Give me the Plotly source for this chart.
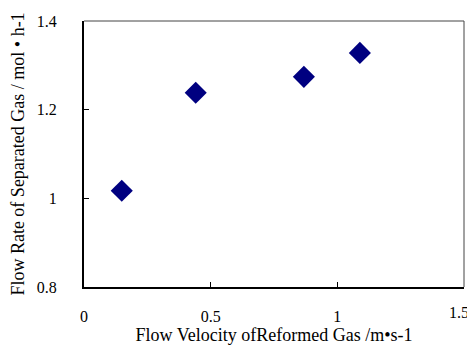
import plotly.graph_objects as go

velocity = [0.149, 0.441, 0.868, 1.089]
flow_rate = [1.017, 1.238, 1.274, 1.328]

x_ticks = [0, 0.5, 1]
x_tick_labels = ["0", "0.5", "1"]
x_end_tick = [1.5]
x_end_label = ["1.5"]
y_ticks = [0.8, 1.0, 1.2, 1.4]
y_tick_labels = ["0.8", "1", "1.2", "1.4"]

tick_font = dict(family="Liberation Serif, Times New Roman, serif", size=16, color="black")
title_font = dict(family="Liberation Serif, Times New Roman, serif", size=18, color="black")

fig = go.Figure()
fig.add_trace(go.Scatter(
    x=velocity, y=flow_rate, mode="markers",
    marker=dict(symbol="diamond", size=17, color="#000080", line=dict(width=0)),
))
# empty trace so the overlay axis carrying the last tick label is drawn
fig.add_trace(go.Scatter(x=[], y=[], xaxis="x2", yaxis="y", hoverinfo="skip"))

# page body has an 8px margin, so the figure is sized to fill the window from there
fig.update_layout(
    width=467, height=337,
    margin=dict(l=76, r=11, t=13, b=58, autoexpand=False),
    paper_bgcolor="white", plot_bgcolor="white",
    font=tick_font, showlegend=False,
    shapes=[
        dict(type="line", xref="paper", yref="paper", x0=0, x1=1, y0=1, y1=1,
             line=dict(color="#444444", width=1)),
        dict(type="line", xref="paper", yref="paper", x0=1, x1=1, y0=0, y1=1,
             line=dict(color="#444444", width=1)),
    ],
    xaxis=dict(
        range=[0, 1.5], tickvals=x_ticks, ticktext=x_tick_labels, automargin=False,
        showgrid=False, zeroline=False, showline=True, linecolor="black", linewidth=2,
        ticks="inside", ticklen=5, tickcolor="black", tickwidth=1, ticklabelstandoff=14,
        ticklabeloverflow="allow", tickfont=tick_font,
        title=dict(text="Flow Velocity ofReformed Gas /m\u2022s-1", standoff=5, font=title_font),
    ),
    xaxis2=dict(
        overlaying="x", side="bottom", matches="x", range=[0, 1.5],
        tickvals=x_end_tick, ticktext=x_end_label, automargin=False,
        showgrid=False, zeroline=False, showline=False, ticks="",
        ticklabelstandoff=14, ticklabelshift=-5, ticklabeloverflow="allow",
        tickfont=tick_font,
    ),
    yaxis=dict(
        range=[0.8, 1.4], tickvals=y_ticks, ticktext=y_tick_labels, automargin=False,
        showgrid=False, zeroline=False, showline=True, linecolor="black", linewidth=2,
        ticks="inside", ticklen=5, tickcolor="black", tickwidth=1, ticklabelstandoff=22,
        ticklabeloverflow="allow", tickfont=tick_font,
        title=dict(text="Flow Rate of Separated Gas / mol \u2022 h-1", standoff=12, font=title_font),
    ),
)

fig.write_html("out.html")
